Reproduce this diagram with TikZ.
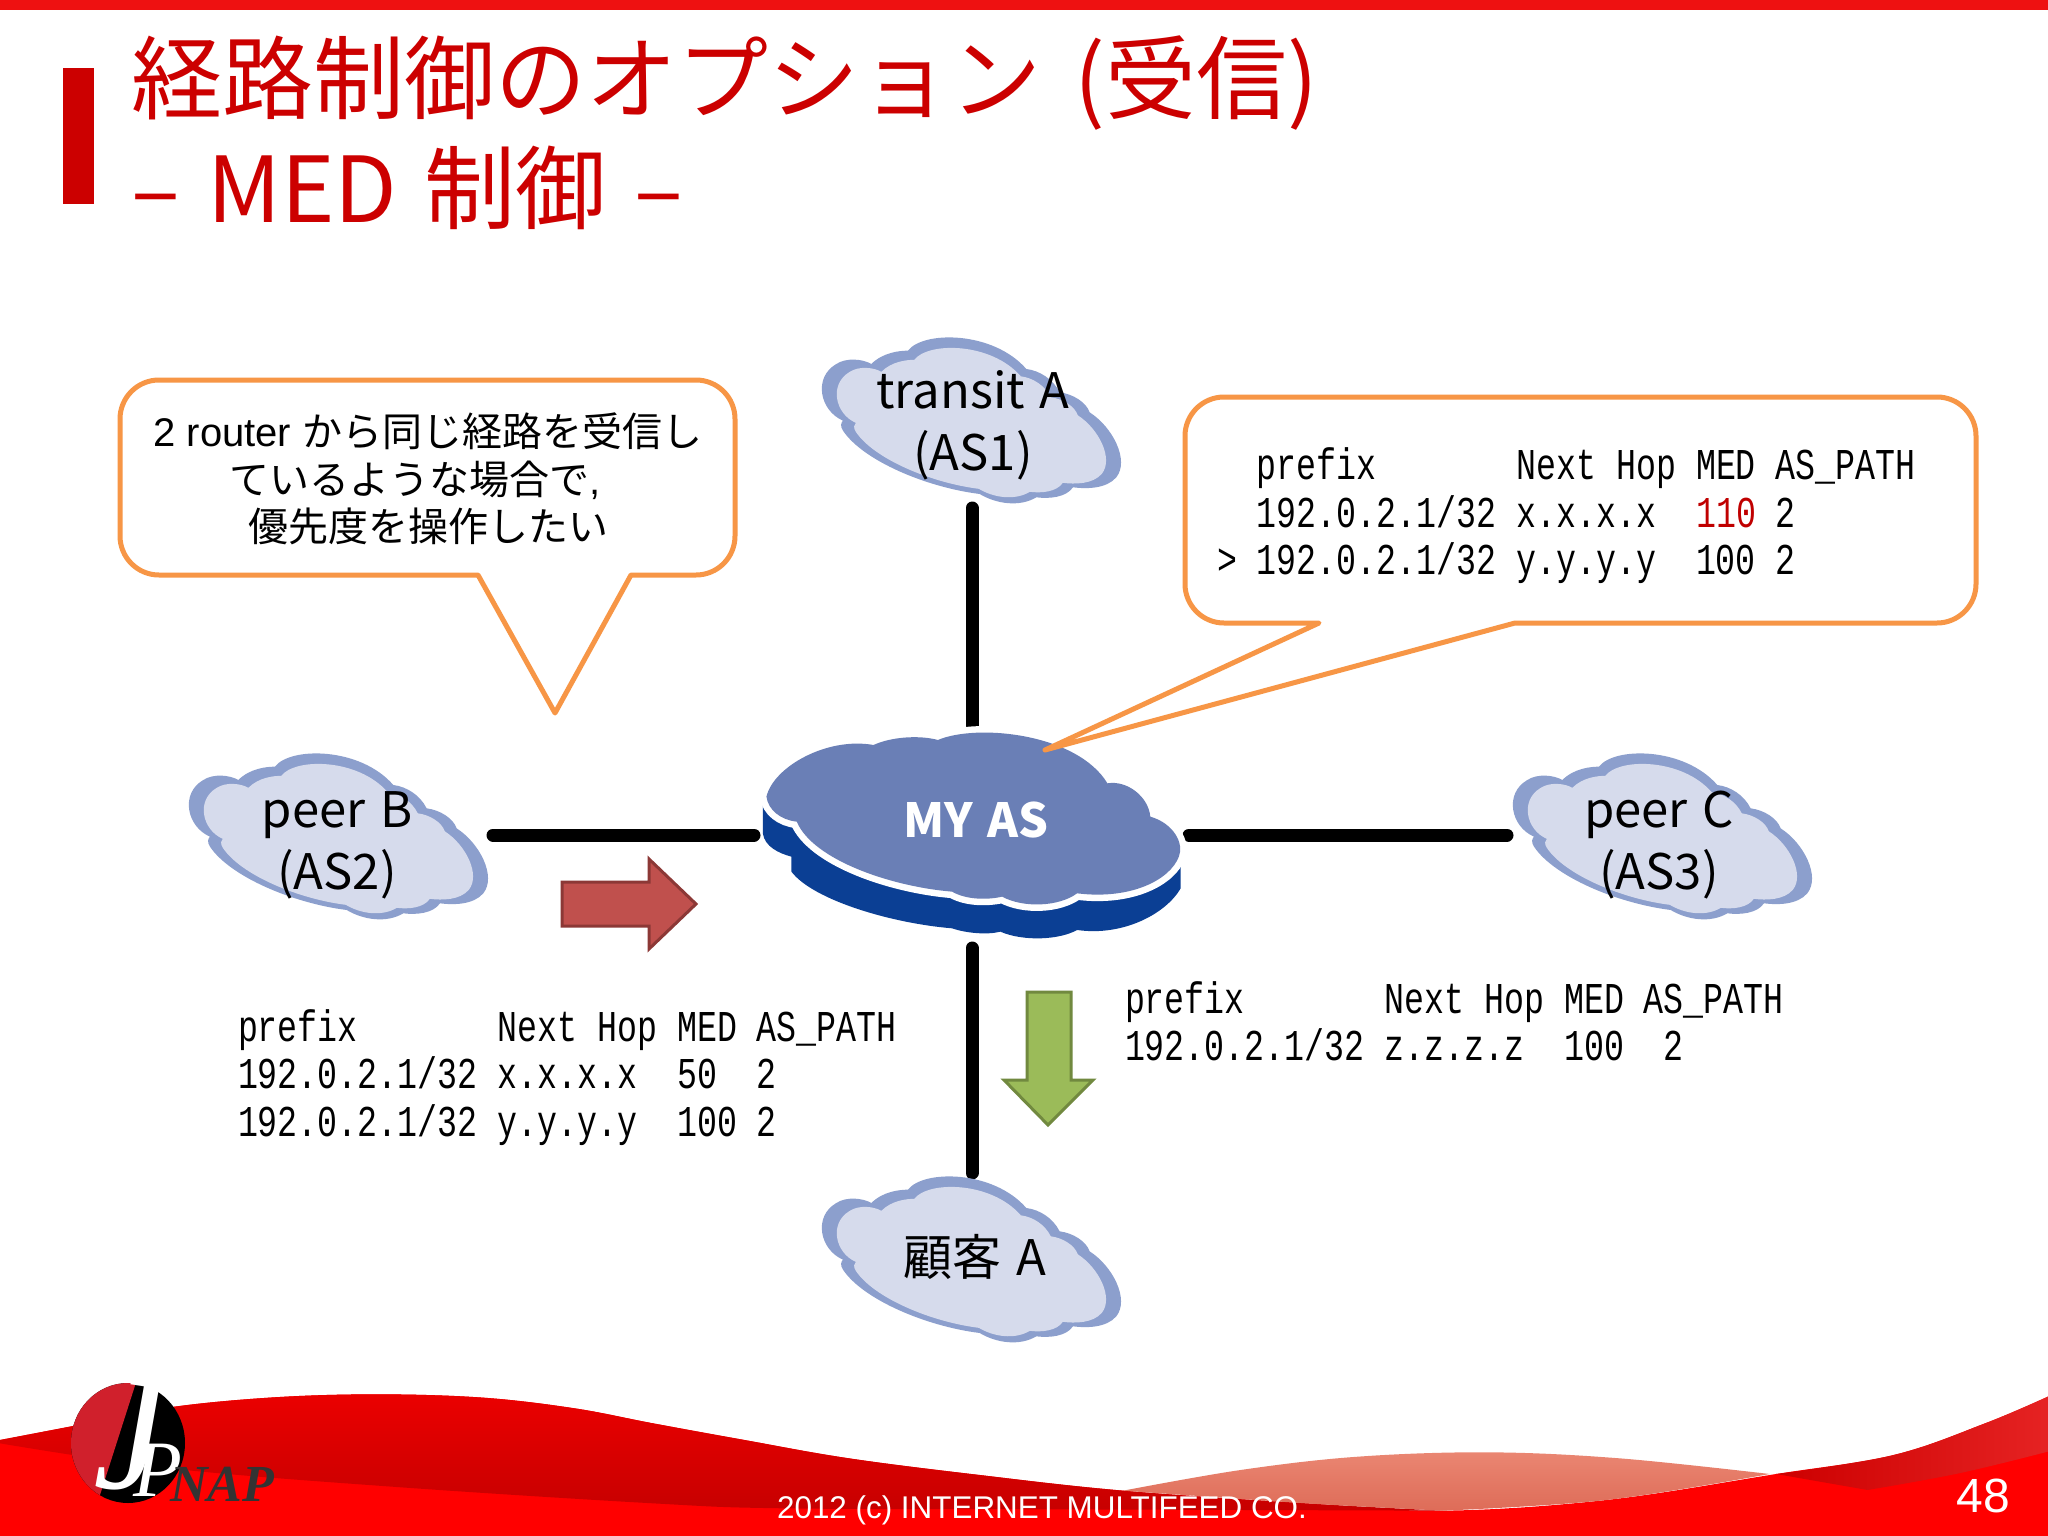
\documentclass[tikz,border=0pt]{standalone}
\usepackage{fontspec}
\setmainfont[WordSpace=1.35]{Noto Sans CJK JP}
\newfontfamily\arialf{Liberation Sans}
\newfontfamily\timesf{Liberation Serif}
\newfontfamily\tblf[FakeStretch=0.756]{Liberation Mono}
\definecolor{titlered}{HTML}{CC0000}
\definecolor{barred}{HTML}{EE1111}
\definecolor{cloudedge}{HTML}{8C9FCD}
\definecolor{cloudfill}{HTML}{D6DBEC}
\definecolor{asface}{HTML}{6A7FB6}
\definecolor{asbase}{HTML}{0B3F94}
\definecolor{callorange}{HTML}{F79646}
\definecolor{medred}{HTML}{C00000}
\definecolor{arrowred}{HTML}{C0504D}
\definecolor{arrowredl}{HTML}{8C3836}
\definecolor{arrowgreen}{HTML}{9BBB59}
\definecolor{arrowgreenl}{HTML}{71893F}
\definecolor{logored}{HTML}{D0202C}
\definecolor{salmontop}{HTML}{EA8672}
\definecolor{salmonbot}{HTML}{DE6C58}
\newcommand{\cloudpts}{(235,150) .. controls (270,115) and (320,110) .. (345,110)
 .. controls (390,50) and (600,50) .. (700,165)
 .. controls (740,170) and (780,195) .. (800,235)
 .. controls (840,240) and (880,265) .. (890,295)
 .. controls (960,340) and (1010,440) .. (970,490)
 .. controls (940,525) and (880,525) .. (840,520)
 .. controls (820,550) and (770,555) .. (730,550)
 .. controls (680,580) and (610,570) .. (560,540)
 .. controls (400,520) and (210,440) .. (150,350)
 .. controls (140,335) and (145,325) .. (150,320)
 .. controls (80,290) and (60,190) .. (130,150)
 .. controls (160,130) and (210,135) .. (235,150) -- cycle}
\newcommand{\aspts}{(130,290) .. controls (150,200) and (300,110) .. (430,135)
 .. controls (480,110) and (560,105) .. (610,120)
 .. controls (720,70) and (1000,100) .. (1085,250)
 .. controls (1140,240) and (1200,290) .. (1205,350)
 .. controls (1270,370) and (1300,430) .. (1285,470)
 .. controls (1260,540) and (1150,600) .. (1000,580)
 .. controls (950,620) and (850,625) .. (790,590)
 .. controls (750,600) and (690,600) .. (650,575)
 .. controls (480,560) and (260,480) .. (215,365)
 .. controls (170,360) and (135,330) .. (130,290) -- cycle}
\tikzset{
  x=1pt,y=-1pt,
  every node/.style={inner sep=0pt,outer sep=0pt},
  cloudpic/.pic={
    \begin{scope}[x=.3333pt,y=-.3333pt]
      \fill[cloudedge] \cloudpts;
      \fill[cloudfill,shift={(535,322)},scale=.9,shift={(-535,-315)}] \cloudpts;
    \end{scope}
  },
  link/.style={line width=13pt,line cap=round,draw=black},
  callout/.style={draw=callorange,fill=white,line width=5pt,line join=round},
  tablerow/.style={anchor=base west,font=\tblf\fontsize{44}{47}\selectfont},
  cloudlabel/.style={font=\fontsize{49}{62}\selectfont,align=center},
  titletext/.style={anchor=base west,text=titlered,font=\fontsize{91}{91}\selectfont},
}
\begin{document}
\begin{tikzpicture}
\useasboundingbox (0,0) rectangle (2048,1536);
\fill[white] (0,0) rectangle (2048,1536);
% header
\fill[barred] (0,0) rectangle (2048,10);
\fill[titlered] (63,68) rectangle (94,204);
\node[titletext] (title1) at (131,113) {経路制御のオプション\kern6pt\ (受信)};
\node[titletext] (title2) at (131,222) {– MED 制御 –};
% footer wave
\begin{scope}[shift={(0,1300)},x=1.306pt,y=-.3333pt]
  \fill[red] plot[smooth,tension=.6] coordinates{(0,420)(60,375)(130,322)(210,292)(290,283)(370,293)(440,325)(500,370)(570,420)(650,475)(750,525)(860,572)(1000,610)(1105,632)(1230,600)(1360,522)(1450,465)(1520,370)(1568,290)} -- (1568,708) -- (0,708) -- cycle;
  \shade[top color=red!92!black,bottom color=red!78!black] plot[smooth,tension=.6] coordinates{(0,420)(60,375)(130,322)(210,292)(290,283)(370,293)(440,325)(500,370)(570,420)(650,475)(750,525)(860,572)(1000,610)(1105,632)} -- plot[smooth,tension=.6] coordinates{(1105,632)(800,628)(600,625)(500,610)(300,560)(130,505)(0,430)} -- cycle;
  \shade[top color=salmontop,bottom color=salmonbot] plot[smooth,tension=.6] coordinates{(860,572)(950,510)(1040,470)(1140,457)(1240,475)(1355,522)} -- plot[smooth,tension=.6] coordinates{(1355,522)(1230,600)(1105,632)} -- plot[smooth,tension=.6] coordinates{(1105,632)(1000,610)(860,572)} -- cycle;
  \shade[left color=red!80!black,right color=red!85!white!90!black] plot[smooth,tension=.6] coordinates{(1360,522)(1450,465)(1520,370)(1568,290)} -- plot[smooth,tension=.6] coordinates{(1568,455)(1500,520)(1430,570)} -- cycle;
\end{scope}
% logo
\begin{scope}
  \clip (128,1443) ellipse [x radius=57,y radius=60];
  \fill[black] (60,1370) rectangle (200,1510);
  \fill[logored] (60,1370) -- (140,1370) -- (100,1495) -- (60,1495) -- cycle;
\end{scope}
\node[anchor=base,text=white,font=\timesf\itshape\fontsize{165}{165}\selectfont] (logoj) at (130,1488) {J};
\node[anchor=base,text=white,font=\timesf\itshape\fontsize{80}{80}\selectfont] (logop) at (158,1496) {P};
\node[anchor=base west,text=black!80,font=\timesf\bfseries\itshape\fontsize{52}{52}\selectfont] (logonap) at (170,1501) {NAP};
\node[text=white,font=\arialf\fontsize{31.4}{31.4}\selectfont] (copyright) at (1042,1510) {2012 (c) INTERNET MULTIFEED CO.};
\node[text=white,font=\arialf\fontsize{48}{48}\selectfont] (pagenum) at (1983,1496) {48};
% connectors' named ends
\coordinate (transitEnd) at (972,508);
\coordinate (asTop) at (972,727);
\coordinate (peerBEnd) at (493,835);
\coordinate (asLeft) at (754,835);
\coordinate (asRight) at (1189,835);
\coordinate (peerCEnd) at (1507,835);
\coordinate (asBottom) at (972,948);
\coordinate (custEnd) at (972,1173);
\draw[link] (transitEnd) -- (asTop);
\draw[link] (peerBEnd) -- (asLeft);
\draw[link] (asRight) -- (peerCEnd);
\draw[link] (asBottom) -- (custEnd);
% clouds
\pic at (160,730) {cloudpic};
\pic at (793,314) {cloudpic};
\pic at (1484,730) {cloudpic};
\pic at (793,1153) {cloudpic};
\node[cloudlabel] (transit) at (973,425) {transit A\\(AS1)};
\node[cloudlabel] (peerB) at (337,845) {peer B\\(AS2)};
\node[cloudlabel] (peerC) at (1659,845) {peer C\\(AS3)};
\node[cloudlabel] (cust) at (975,1257) {顧客 A};
% MY AS cloud
\begin{scope}[shift={(720,700)},x=.3571pt,y=-.3333pt]
  \fill[asbase] (120,310) -- (120,400) .. controls (125,440) and (165,460) .. (200,470) -- (200,515) .. controls (260,600) and (480,670) .. (650,685) .. controls (690,700) and (750,705) .. (785,695) .. controls (850,725) and (950,720) .. (1000,690) .. controls (1130,710) and (1250,640) .. (1290,565) -- (1290,470) -- (1000,300) -- cycle;
  \draw[white,line width=13pt,line join=round] \aspts;
  \fill[asface] \aspts;
\end{scope}
\node[text=white,font=\bfseries\fontsize{47}{47}\selectfont] (myas) at (976,820) {MY AS};
% block arrows
\draw[fill=arrowred,draw=arrowredl,line width=3pt] (562,882) -- (649,882) -- (649,859) -- (696,904) -- (649,949) -- (649,926) -- (562,926) -- cycle;
\draw[fill=arrowgreen,draw=arrowgreenl,line width=3pt] (1027,992) -- (1071,992) -- (1071,1080) -- (1093,1080) -- (1048,1125) -- (1004,1080) -- (1027,1080) -- cycle;
% callouts
\draw[callout,rounded corners=39pt] (120,380) -- (735,380) -- (735,575) [sharp corners] -- (631,575) -- (555,713) -- (478,575) [rounded corners=39pt] -- (120,575) -- cycle;
\draw[callout,rounded corners=39pt] (1185,397) -- (1976,397) -- (1976,623) [sharp corners] -- (1515,623) -- (1045,750) -- (1319,623) [rounded corners=39pt] -- (1185,623) -- cycle;
\node[align=center,font=\fontsize{40}{47.5}\selectfont] (note) at (428,479) {{\arialf 2 router }から同じ経路を受信し\\ているような場合で{\arialf ,}\rule{26pt}{0pt}\\優先度を操作したい};
% tables
\node[tablerow] (ra) at (1217,479) {~~prefix~~~~~~~Next~Hop~MED~AS\_PATH};
\node[tablerow] (rb) at (1217,527) {~~192.0.2.1/32~x.x.x.x~~\textcolor{medred}{110}~2};
\node[tablerow] (rc) at (1217,574) {>~192.0.2.1/32~y.y.y.y~~100~2};
\node[tablerow] (la) at (238,1041) {prefix~~~~~~~Next~Hop~MED~AS\_PATH};
\node[tablerow] (lb) at (238,1088) {192.0.2.1/32~x.x.x.x~~50~~2};
\node[tablerow] (lc) at (238,1136) {192.0.2.1/32~y.y.y.y~~100~2};
\node[tablerow] (da) at (1125,1013) {prefix~~~~~~~Next~Hop~MED~AS\_PATH};
\node[tablerow] (db) at (1125,1060) {192.0.2.1/32~z.z.z.z~~100~~2};
\end{tikzpicture}
\end{document}
